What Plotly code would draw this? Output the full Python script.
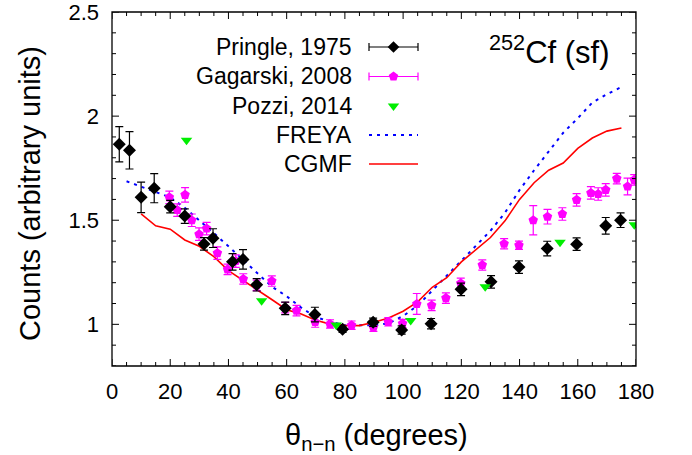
import plotly.graph_objects as go

# ---------------- data ----------------
pringle_x = [2.5, 6, 10, 14.5, 20, 25, 31.6, 34.7, 41.4, 45, 49.7, 59.5, 69.7, 79.2,
             89.7, 99.5, 109.6, 119.9, 130.2, 139.8, 149.5, 159.6, 169.6, 174.7]
pringle_y = [1.865, 1.836, 1.61, 1.654, 1.565, 1.52, 1.386, 1.414, 1.30, 1.312, 1.19, 1.077,
             1.047, 0.976, 1.01, 0.973, 1.003, 1.168, 1.204, 1.275, 1.364, 1.385, 1.473, 1.50]
pringle_err = [0.085, 0.09, 0.073, 0.07, 0.03, 0.035, 0.03, 0.045, 0.04, 0.047, 0.03, 0.03,
               0.035, 0.015, 0.02, 0.02, 0.025, 0.03, 0.03, 0.03, 0.035, 0.03, 0.04, 0.035]

gagarski_x = [19.7, 22.4, 25.1, 27.4, 29.9, 32.5, 36.2, 39.7, 42.5, 45.1, 49.7, 54.9, 59.5,
              63.4, 69.8, 74.9, 82.3, 89.8, 94.9, 99.8, 104.7, 109.8, 114.7, 119.8, 127.2,
              134.7, 139.8, 144.7, 149.6, 154.7, 159.6, 164.5, 167, 169.6, 173.4, 177.1, 179.4]
gagarski_y = [1.61, 1.549, 1.622, 1.50, 1.433, 1.46, 1.342, 1.264, 1.304, 1.218, 1.187, 1.208,
              1.08, 1.066, 1.011, 1.002, 0.996, 0.986, 1.012, 1.004, 1.098, 1.091, 1.126, 1.197,
              1.285, 1.387, 1.38, 1.50, 1.517, 1.53, 1.598, 1.631, 1.626, 1.646, 1.70, 1.662, 1.694]
gagarski_err = [0.03, 0.03, 0.035, 0.03, 0.03, 0.03, 0.03, 0.025, 0.03, 0.025, 0.025, 0.025,
                0.025, 0.025, 0.025, 0.02, 0.02, 0.02, 0.02, 0.02, 0.05, 0.025, 0.025, 0.025,
                0.025, 0.025, 0.02, 0.07, 0.035, 0.03, 0.03, 0.03, 0.03, 0.03, 0.025, 0.04, 0.025]

pozzi_x = [25.6, 51.4, 77.0, 102.6, 128.2, 153.9, 179.4]
pozzi_y = [1.884, 1.113, 0.997, 1.018, 1.18, 1.394, 1.478]

freya_x = list(range(5, 180, 5))
freya_y = [1.687, 1.662, 1.637, 1.61, 1.56, 1.50, 1.438, 1.375, 1.31, 1.245, 1.18, 1.135,
           1.08, 1.035, 1.013, 0.996, 0.995, 0.995, 1.005, 1.04, 1.09, 1.162, 1.232, 1.306,
           1.38, 1.449, 1.536, 1.645, 1.74, 1.83, 1.92, 1.99, 2.065, 2.105, 2.14]

cgmf_x = list(range(10, 180, 5))
cgmf_y = [1.53, 1.473, 1.457, 1.405, 1.375, 1.325, 1.258, 1.212, 1.168, 1.118, 1.07, 1.05,
          1.02, 1.001, 0.995, 0.994, 1.01, 1.03, 1.063, 1.108, 1.178, 1.224, 1.30, 1.36,
          1.417, 1.497, 1.60, 1.68, 1.74, 1.775, 1.845, 1.895, 1.928, 1.943]

series_names = ["Pringle, 1975", "Gagarski, 2008", "Pozzi, 2014", "FREYA", "CGMF"]
x_ticks = [0, 20, 40, 60, 80, 100, 120, 140, 160, 180]
y_ticks = [1, 1.5, 2, 2.5]
x_minor_step = 5
y_minor_step = 0.1

# ---------------- styles / geometry ----------------
FONT = "Liberation Sans, Arial, sans-serif"
BLACK = "#000000"
MAGENTA = "#ff00ff"
GREEN = "#00ee00"
BLUE = "#0000ff"
RED = "#ff0000"

W, H = 692, 455
PL, PR, PT, PB = 112, 636, 12, 366   # plot area in page pixels
XR = [0, 180]
YR = [0.8, 2.5]
MAJOR_LEN, MINOR_LEN = 7, 4          # tick lengths in px


def px(xp):
    return (xp - PL) / (PR - PL)


def py(yp):
    return (PB - yp) / (PB - PT)


def dx(xp):   # page pixel -> x data (for legend keys only)
    return XR[0] + px(xp) * (XR[1] - XR[0])


def dy(yp):   # page pixel -> y data (for legend keys only)
    return YR[0] + py(yp) * (YR[1] - YR[0])


fig = go.Figure()

fig.add_trace(go.Scatter(x=freya_x, y=freya_y, mode="lines",
                         line=dict(color=BLUE, width=2, dash="3px,5px"), showlegend=False))
fig.add_trace(go.Scatter(x=cgmf_x, y=cgmf_y, mode="lines",
                         line=dict(color=RED, width=1.6), showlegend=False))
fig.add_trace(go.Scatter(x=gagarski_x, y=gagarski_y, mode="markers",
                         marker=dict(symbol="pentagon", size=10, color=MAGENTA),
                         error_y=dict(type="data", array=gagarski_err, color=MAGENTA,
                                      thickness=1.2, width=4),
                         showlegend=False))
fig.add_trace(go.Scatter(x=pringle_x, y=pringle_y, mode="markers",
                         marker=dict(symbol="diamond", size=10, color=BLACK),
                         error_y=dict(type="data", array=pringle_err, color=BLACK,
                                      thickness=1.2, width=4),
                         showlegend=False))
fig.add_trace(go.Scatter(x=pozzi_x, y=pozzi_y, mode="markers",
                         marker=dict(symbol="triangle-down", size=10, color=GREEN),
                         showlegend=False))

# ------- custom legend (text left, key right), keys placed from pixel layout -------
rows = [47, 76.5, 106, 135, 164]
kx0, kx1, kxc = 369, 418, 393.5
text_right = 354
half = dx(kx1) - dx(kxc)

fig.add_trace(go.Scatter(x=[dx(kxc)], y=[dy(rows[0])], mode="markers",
                         marker=dict(symbol="diamond", size=9, color=BLACK),
                         error_x=dict(type="constant", value=half, color=BLACK,
                                      thickness=1.2, width=4), showlegend=False))
fig.add_trace(go.Scatter(x=[dx(kxc)], y=[dy(rows[1])], mode="markers",
                         marker=dict(symbol="pentagon", size=10, color=MAGENTA),
                         error_x=dict(type="constant", value=half, color=MAGENTA,
                                      thickness=1.2, width=4), showlegend=False))
fig.add_trace(go.Scatter(x=[dx(kxc)], y=[dy(rows[2])], mode="markers",
                         marker=dict(symbol="triangle-down", size=10, color=GREEN),
                         showlegend=False))
fig.add_trace(go.Scatter(x=[dx(kx0), dx(kx1)], y=[dy(rows[3])] * 2, mode="lines",
                         line=dict(color=BLUE, width=2, dash="3px,5px"), showlegend=False))
fig.add_trace(go.Scatter(x=[dx(kx0), dx(kx1)], y=[dy(rows[4])] * 2, mode="lines",
                         line=dict(color=RED, width=1.6), showlegend=False))

annotations = []
for name, ry in zip(series_names, rows):
    annotations.append(dict(x=px(text_right), y=py(ry), xref="paper", yref="paper",
                            text=name, showarrow=False, xanchor="right", yanchor="middle",
                            font=dict(family=FONT, size=23, color=BLACK)))

annotations.append(dict(x=px(487), y=py(72), xref="paper", yref="paper",
                        text="<sup>252</sup>Cf (sf)", showarrow=False,
                        xanchor="left", yanchor="bottom",
                        font=dict(family=FONT, size=31, color=BLACK)))
annotations.append(dict(x=px(30), y=py(194), xref="paper", yref="paper",
                        text="Counts (arbitrary units)", textangle=-90, showarrow=False,
                        xanchor="center", yanchor="middle",
                        font=dict(family=FONT, size=29, color=BLACK)))
annotations.append(dict(x=px(376), y=py(437), xref="paper", yref="paper",
                        text="θ<sub>n−n</sub> (degrees)", showarrow=False,
                        xanchor="center", yanchor="middle",
                        font=dict(family=FONT, size=29, color=BLACK)))

# ------- frame and inside ticks on all four sides (shapes on the axis scales) -------
shapes = [dict(type="rect", xref="paper", yref="paper", x0=0, x1=1, y0=0, y1=1,
               line=dict(color=BLACK, width=1.3), fillcolor="rgba(0,0,0,0)", layer="above")]

fx_major = MAJOR_LEN / (PB - PT)
fx_minor = MINOR_LEN / (PB - PT)
n_xminor = int(round((XR[1] - XR[0]) / x_minor_step))
for i in range(n_xminor + 1):
    xv = XR[0] + i * x_minor_step
    ln = fx_major if any(abs(xv - t) < 1e-9 for t in x_ticks) else fx_minor
    for (a, b) in [(0, ln), (1, 1 - ln)]:
        shapes.append(dict(type="line", xref="x", yref="paper", x0=xv, x1=xv, y0=a, y1=b,
                           line=dict(color=BLACK, width=1), layer="above"))

fy_major = MAJOR_LEN / (PR - PL)
fy_minor = MINOR_LEN / (PR - PL)
n_yminor = int(round((YR[1] - YR[0]) / y_minor_step))
for i in range(n_yminor + 1):
    yv = round(YR[0] + i * y_minor_step, 6)
    ln = fy_major if any(abs(yv - t) < 1e-9 for t in y_ticks) else fy_minor
    for (a, b) in [(0, ln), (1, 1 - ln)]:
        shapes.append(dict(type="line", xref="paper", yref="y", x0=a, x1=b, y0=yv, y1=yv,
                           line=dict(color=BLACK, width=1), layer="above"))

axis_common = dict(showline=False, ticks="", showgrid=False, zeroline=False,
                   automargin=False, ticklabeloverflow="allow",
                   tickfont=dict(family=FONT, size=22, color=BLACK))

fig.update_layout(
    template="none",
    width=W, height=H, autosize=False,
    margin=dict(l=PL, r=W - PR, t=PT, b=H - PB, pad=0, autoexpand=False),
    paper_bgcolor="white", plot_bgcolor="white",
    font=dict(family=FONT, color=BLACK),
    showlegend=False,
    xaxis=dict(range=XR, tickmode="array", tickvals=x_ticks,
               ticktext=[str(v) for v in x_ticks], ticklabelstandoff=10,
               **axis_common),
    yaxis=dict(range=[YR[0] - 1e-4, YR[1] + 1e-4], tickmode="array", tickvals=y_ticks,
               ticktext=[("%g" % v) for v in y_ticks], ticklabelstandoff=12,
               **axis_common),
    annotations=annotations,
    shapes=shapes,
)

fig.write_html("out.html", config={"displayModeBar": False, "responsive": False},
               post_script="document.body.style.margin='0px';"
                           "document.documentElement.style.overflow='hidden';")
